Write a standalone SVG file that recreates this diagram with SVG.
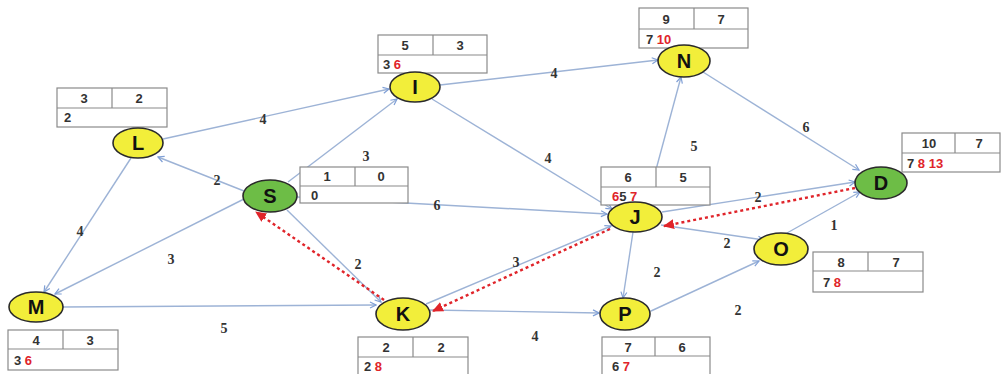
<svg xmlns="http://www.w3.org/2000/svg" width="1001" height="374" viewBox="0 0 1001 374">
<style>
.e{stroke:#9db3d6;stroke-width:1.4;fill:none;marker-end:url(#ab)}
.r{stroke:#e0242a;stroke-width:2.4;stroke-dasharray:3 3;fill:none;marker-end:url(#ar)}
.y{fill:#f2ee3a;stroke:#2a2a2a;stroke-width:1.6}
.g{fill:#6dbd46;stroke:#2a2a2a;stroke-width:1.6}
.nl{font-family:"Liberation Sans",Arial,sans-serif;font-weight:bold;font-size:20px;fill:#111;text-anchor:middle}
.el{font-family:"Liberation Serif","Times New Roman",serif;font-weight:bold;font-size:14px;fill:#333;text-anchor:middle}
.tb{fill:#fff;stroke:#8a8a8a;stroke-width:1.2}
.tl{stroke:#8a8a8a;stroke-width:1.2}
.tt{font-family:"Liberation Sans",Arial,sans-serif;font-weight:bold;font-size:13px;fill:#333}
.c{text-anchor:middle}
.red{fill:#e0242a}
</style>
<defs>
<marker id="ab" markerWidth="8" markerHeight="8" refX="7" refY="4" orient="auto" markerUnits="userSpaceOnUse">
<path d="M1,1 L7,4 L1,7" fill="none" stroke="#7f9fd6" stroke-width="1.2"/>
</marker>
<marker id="ar" markerWidth="12" markerHeight="10" refX="10" refY="5" orient="auto" markerUnits="userSpaceOnUse">
<path d="M0,0 L11,5 L0,10 Z" fill="#e0242a"/>
</marker>
</defs>
<rect width="1001" height="374" fill="#fff"/>
<g id="connectors">
<line class="e" x1="163" y1="139" x2="389" y2="89"/>
<line class="e" x1="244" y1="191" x2="158" y2="157"/>
<line class="e" x1="244" y1="199" x2="55" y2="294"/>
<line class="e" x1="131" y1="158" x2="44" y2="292"/>
<line class="e" x1="288" y1="182" x2="397" y2="99"/>
<line class="e" x1="297" y1="197" x2="607" y2="214"/>
<line class="e" x1="287" y1="210" x2="381" y2="302"/>
<line class="e" x1="63" y1="307" x2="376" y2="305"/>
<line class="e" x1="426" y1="304" x2="611" y2="226"/>
<line class="e" x1="430" y1="310" x2="599" y2="313"/>
<line class="e" x1="440" y1="85" x2="658" y2="60"/>
<line class="e" x1="432" y1="99" x2="612" y2="209"/>
<line class="e" x1="647" y1="203" x2="681" y2="77"/>
<line class="e" x1="703" y1="72" x2="859" y2="170"/>
<line class="e" x1="662" y1="212" x2="855" y2="182"/>
<line class="e" x1="661" y1="225" x2="764" y2="240"/>
<line class="e" x1="787" y1="233" x2="860" y2="192"/>
<line class="e" x1="633" y1="232" x2="623" y2="298"/>
<line class="e" x1="651" y1="311" x2="759" y2="261"/>
<line class="r" x1="855" y1="188" x2="664" y2="226"/>
<line class="r" x1="610" y1="229" x2="433" y2="311"/>
<line class="r" x1="384" y1="300" x2="256" y2="212"/>
</g>
<g id="edge-labels">
<text class="el" x="263" y="124">4</text>
<text class="el" x="217" y="185">2</text>
<text class="el" x="80" y="236">4</text>
<text class="el" x="171" y="264">3</text>
<text class="el" x="366" y="161">3</text>
<text class="el" x="437" y="210">6</text>
<text class="el" x="358" y="269">2</text>
<text class="el" x="224" y="333">5</text>
<text class="el" x="554" y="78">4</text>
<text class="el" x="548" y="163">4</text>
<text class="el" x="694" y="151">5</text>
<text class="el" x="806" y="132">6</text>
<text class="el" x="758" y="202">2</text>
<text class="el" x="834" y="230">1</text>
<text class="el" x="727" y="248">2</text>
<text class="el" x="657" y="277">2</text>
<text class="el" x="738" y="315">2</text>
<text class="el" x="516" y="267">3</text>
<text class="el" x="535" y="341">4</text>
</g>
<g id="table-L"><rect class="tb" x="57" y="88" width="110" height="39"/><line class="tl" x1="57" y1="108" x2="167" y2="108"/><line class="tl" x1="112" y1="88" x2="112" y2="108"/><text class="tt c" x="84" y="103">3</text><text class="tt c" x="139" y="103">2</text><text class="tt" x="64" y="122">2</text></g>
<g id="table-I"><rect class="tb" x="378" y="35" width="109" height="38"/><line class="tl" x1="378" y1="55" x2="487" y2="55"/><line class="tl" x1="433" y1="35" x2="433" y2="55"/><text class="tt c" x="405" y="50">5</text><text class="tt c" x="460" y="50">3</text><text class="tt" x="383" y="69">3 <tspan class="red">6</tspan></text></g>
<g id="table-S"><rect class="tb" x="300" y="167" width="108" height="36"/><line class="tl" x1="300" y1="186" x2="408" y2="186"/><line class="tl" x1="355" y1="167" x2="355" y2="186"/><text class="tt c" x="327" y="181">1</text><text class="tt c" x="381" y="181">0</text><text class="tt" x="311" y="200">0</text></g>
<g id="table-N"><rect class="tb" x="639" y="8" width="109" height="40"/><line class="tl" x1="639" y1="29" x2="748" y2="29"/><line class="tl" x1="694" y1="8" x2="694" y2="29"/><text class="tt c" x="666" y="24">9</text><text class="tt c" x="721" y="24">7</text><text class="tt" x="646" y="44">7 <tspan class="red">10</tspan></text></g>
<g id="table-J"><rect class="tb" x="601" y="167" width="109" height="38"/><line class="tl" x1="601" y1="187" x2="710" y2="187"/><line class="tl" x1="656" y1="167" x2="656" y2="187"/><text class="tt c" x="628" y="182">6</text><text class="tt c" x="683" y="182">5</text><text class="tt" x="612" y="201"><tspan class="red">6</tspan>5 <tspan class="red">7</tspan></text></g>
<g id="table-D"><rect class="tb" x="902" y="133" width="98" height="39"/><line class="tl" x1="902" y1="153" x2="1000" y2="153"/><line class="tl" x1="955" y1="133" x2="955" y2="153"/><text class="tt c" x="929" y="148">10</text><text class="tt c" x="979" y="148">7</text><text class="tt" x="907" y="168">7 <tspan class="red">8 13</tspan></text></g>
<g id="table-O"><rect class="tb" x="813" y="252" width="110" height="40"/><line class="tl" x1="813" y1="271" x2="923" y2="271"/><line class="tl" x1="868" y1="252" x2="868" y2="271"/><text class="tt c" x="841" y="267">8</text><text class="tt c" x="896" y="267">7</text><text class="tt" x="823" y="287">7 <tspan class="red">8</tspan></text></g>
<g id="table-M"><rect class="tb" x="8" y="330" width="110" height="40"/><line class="tl" x1="8" y1="349" x2="118" y2="349"/><line class="tl" x1="63" y1="330" x2="63" y2="349"/><text class="tt c" x="36" y="345">4</text><text class="tt c" x="90" y="345">3</text><text class="tt" x="14" y="365">3 <tspan class="red">6</tspan></text></g>
<g id="table-K"><rect class="tb" x="358" y="337" width="110" height="40"/><line class="tl" x1="358" y1="357" x2="468" y2="357"/><line class="tl" x1="413" y1="337" x2="413" y2="357"/><text class="tt c" x="386" y="352">2</text><text class="tt c" x="441" y="352">2</text><text class="tt" x="364" y="371">2 <tspan class="red">8</tspan></text></g>
<g id="table-P"><rect class="tb" x="602" y="337" width="108" height="40"/><line class="tl" x1="602" y1="356" x2="710" y2="356"/><line class="tl" x1="655" y1="337" x2="655" y2="356"/><text class="tt c" x="628" y="352">7</text><text class="tt c" x="682" y="352">6</text><text class="tt" x="612" y="371">6 <tspan class="red">7</tspan></text></g>
<g id="node-L"><ellipse class="y" cx="138" cy="143" rx="25" ry="15"/><text class="nl" x="138" y="150">L</text></g>
<g id="node-S"><ellipse class="g" cx="270" cy="196" rx="27" ry="16"/><text class="nl" x="270" y="203">S</text></g>
<g id="node-I"><ellipse class="y" cx="415" cy="87" rx="25" ry="15"/><text class="nl" x="415" y="94">I</text></g>
<g id="node-N"><ellipse class="y" cx="684" cy="61" rx="26" ry="16"/><text class="nl" x="684" y="68">N</text></g>
<g id="node-J"><ellipse class="y" cx="635" cy="217" rx="27" ry="15"/><text class="nl" x="635" y="224">J</text></g>
<g id="node-D"><ellipse class="g" cx="881" cy="183" rx="26" ry="16"/><text class="nl" x="881" y="190">D</text></g>
<g id="node-O"><ellipse class="y" cx="781" cy="249" rx="27" ry="16"/><text class="nl" x="781" y="256">O</text></g>
<g id="node-P"><ellipse class="y" cx="625" cy="314" rx="25" ry="16"/><text class="nl" x="625" y="321">P</text></g>
<g id="node-K"><ellipse class="y" cx="403" cy="314" rx="27" ry="16"/><text class="nl" x="403" y="321">K</text></g>
<g id="node-M"><ellipse class="y" cx="36" cy="307" rx="27" ry="15"/><text class="nl" x="36" y="314">M</text></g>
</svg>
